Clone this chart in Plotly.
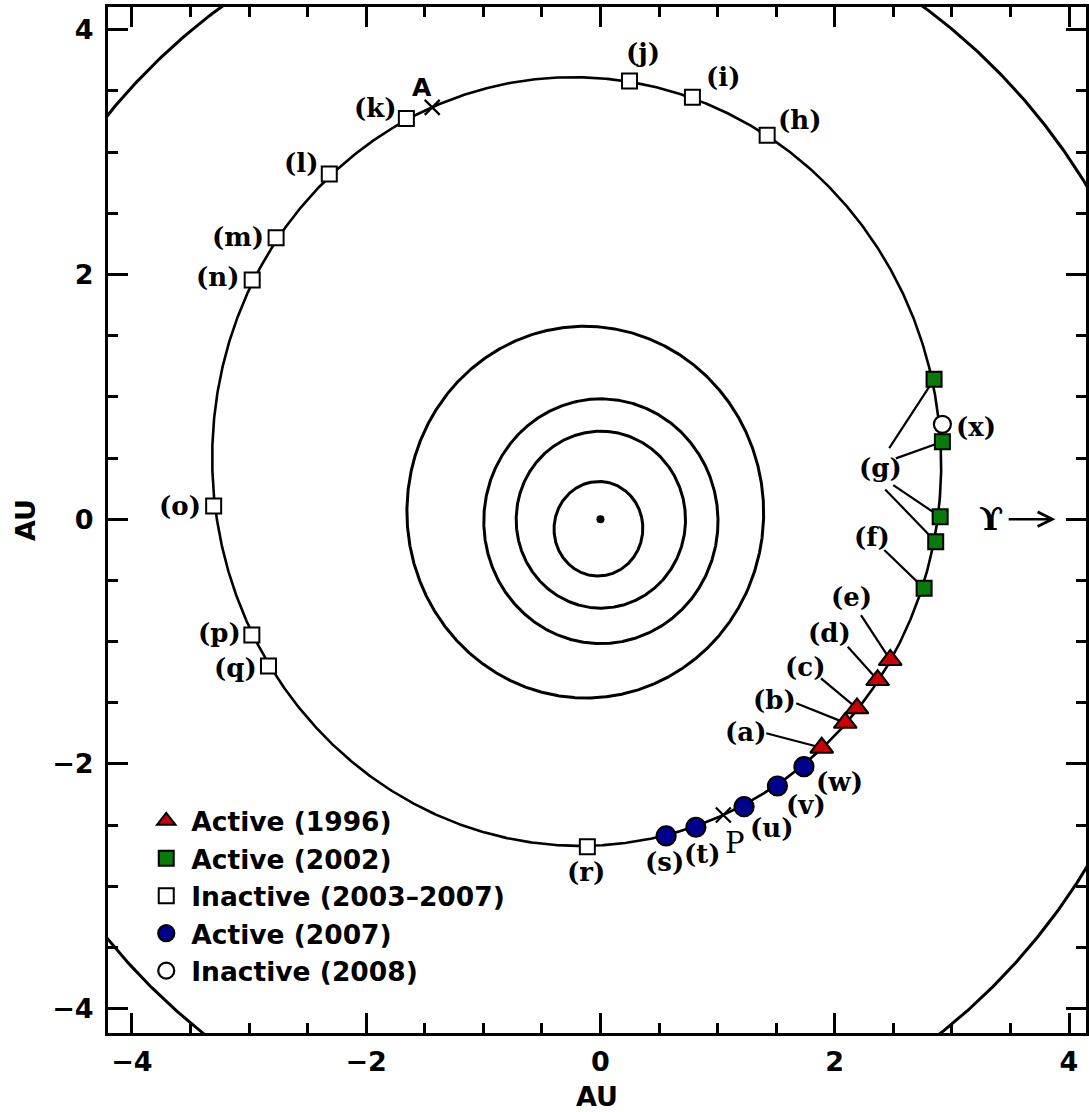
import numpy as np
import plotly.graph_objects as go

# ---------------- data ----------------
# planetary orbits (semi-major axis AU, eccentricity, longitude of perihelion deg)
planet_names = ["Mercury", "Venus", "Earth", "Mars", "Jupiter"]
planet_a = [0.387, 0.723, 1.000, 1.524, 5.203]
planet_e = [0.206, 0.007, 0.017, 0.093, 0.048]
planet_peri = [77.5, 131.5, 102.9, 336.0, 14.3]

# comet orbit
comet_a = 3.147
comet_e = 0.163
comet_peri = 293.3

# Active (1996)
act96_x = [1.889, 2.090, 2.190, 2.366, 2.474]
act96_y = [-1.867, -1.664, -1.545, -1.314, -1.150]
act96_lab = ["(a)", "(b)", "(c)", "(d)", "(e)"]
act96_lab_x = [1.240, 1.487, 1.747, 1.955, 2.145]
act96_lab_y = [-1.736, -1.477, -1.205, -0.932, -0.633]
act96_lead_x = [1.415, 1.671, 1.883, 2.111, 2.224]
act96_lead_y = [-1.749, -1.504, -1.300, -1.042, -0.783]

# Active (2002)
act02_x = [2.763, 2.848, 2.919, 2.900, 2.862]
act02_y = [-0.565, 1.143, 0.633, 0.020, -0.184]
act02_lead_x = [2.423, 2.465, 2.522, 2.500, 2.431]
act02_lead_y = [-0.252, 0.580, 0.497, 0.279, 0.243]
act02_lab = ["(f)", "(g)"]
act02_lab_x = [2.315, 2.394]
act02_lab_y = [-0.143, 0.416]

# Inactive (2003-2007)
inact_x = [1.423, 0.785, 0.248, -1.657, -2.315, -2.769, -2.973, -3.302, -2.976, -2.834, -0.112]
inact_y = [3.137, 3.447, 3.580, 3.275, 2.820, 2.300, 1.954, 0.108, -0.946, -1.199, -2.676]
inact_lab = ["(h)", "(i)", "(j)", "(k)", "(l)", "(m)", "(n)", "(o)", "(p)", "(q)", "(r)"]
inact_lab_x = [1.700, 1.047, 0.361, -1.917, -2.556, -3.095, -3.265, -3.591, -3.251, -3.115, -0.121]
inact_lab_y = [3.261, 3.610, 3.806, 3.357, 2.908, 2.308, 1.981, 0.108, -0.932, -1.218, -2.880]

# Active (2007)
act07_x = [0.561, 0.815, 1.226, 1.511, 1.737]
act07_y = [-2.588, -2.517, -2.349, -2.180, -2.022]
act07_lab = ["(s)", "(t)", "(u)", "(v)", "(w)"]
act07_lab_x = [0.546, 0.868, 1.465, 1.757, 2.038]
act07_lab_y = [-2.798, -2.735, -2.525, -2.335, -2.144]

# Inactive (2008)
inact08_x = [2.919]
inact08_y = [0.775]
inact08_lab = ["(x)"]
inact08_lab_x = [3.210]
inact08_lab_y = [0.756]

# aphelion / perihelion
apsis_x = [-1.436, 1.049]
apsis_y = [3.365, -2.417]
apsis_lab = ["A", "P"]
apsis_lab_x = [-1.521, 1.152]
apsis_lab_y = [3.529, -2.648]

# vernal equinox arrow
equinox_sym_x, equinox_sym_y = 3.330, 0.005
equinox_tail_x, equinox_head_x = 3.472, 3.884

# ---------------- figure ----------------
BOLD_SANS = "DejaVu Sans"
SERIF = "DejaVu Serif"


def orbit(a, e, peri_deg):
    nu = np.linspace(0, 2 * np.pi, 1441)
    r = a * (1 - e ** 2) / (1 + e * np.cos(nu))
    ang = nu + np.radians(peri_deg)
    return r * np.cos(ang), r * np.sin(ang)


fig = go.Figure()

for name, a, e, w in zip(planet_names, planet_a, planet_e, planet_peri):
    ox, oy = orbit(a, e, w)
    fig.add_trace(go.Scatter(x=ox, y=oy, mode="lines", line=dict(color="black", width=3),
                             showlegend=False, hoverinfo="skip", name=name))

cx, cy = orbit(comet_a, comet_e, comet_peri)
fig.add_trace(go.Scatter(x=cx, y=cy, mode="lines", line=dict(color="black", width=2.6),
                         showlegend=False, hoverinfo="skip"))

# Sun
fig.add_trace(go.Scatter(x=[0], y=[0], mode="markers", marker=dict(color="black", size=8),
                         showlegend=False, hoverinfo="skip"))

# leader lines
lx, ly = [], []
for sx, sy, ex, ey in zip(act96_lead_x, act96_lead_y, act96_x, act96_y):
    lx += [sx, ex, None]
    ly += [sy, ey, None]
for sx, sy, ex, ey in zip(act02_lead_x, act02_lead_y, act02_x, act02_y):
    lx += [sx, ex, None]
    ly += [sy, ey, None]
fig.add_trace(go.Scatter(x=lx, y=ly, mode="lines", line=dict(color="black", width=2.2),
                         showlegend=False, hoverinfo="skip"))

# apsis crosses
fig.add_trace(go.Scatter(x=apsis_x, y=apsis_y, mode="markers",
                         marker=dict(symbol="x-thin", size=15, line=dict(color="black", width=2.2)),
                         showlegend=False, hoverinfo="skip"))

# marker series
fig.add_trace(go.Scatter(x=act96_x, y=act96_y, mode="markers", name="Active (1996)",
                         marker=dict(symbol="triangle-up", size=20, color="#cc0000",
                                     line=dict(color="black", width=2))))
fig.add_trace(go.Scatter(x=act02_x, y=act02_y, mode="markers", name="Active (2002)",
                         marker=dict(symbol="square", size=15, color="#0a7a0a",
                                     line=dict(color="black", width=2))))
fig.add_trace(go.Scatter(x=inact_x, y=inact_y, mode="markers", name="Inactive (2003\u20132007)",
                         marker=dict(symbol="square", size=15, color="white",
                                     line=dict(color="black", width=2))))
fig.add_trace(go.Scatter(x=act07_x, y=act07_y, mode="markers", name="Active (2007)",
                         marker=dict(symbol="circle", size=19, color="#00008f",
                                     line=dict(color="black", width=2.2))))
fig.add_trace(go.Scatter(x=inact08_x, y=inact08_y, mode="markers", name="Inactive (2008)",
                         marker=dict(symbol="circle", size=17, color="white",
                                     line=dict(color="black", width=2.2))))

# labels
lab_font = dict(family=SERIF, size=26, color="black", weight="bold")
for labs, xs, ys in [(act96_lab, act96_lab_x, act96_lab_y),
                     (act02_lab, act02_lab_x, act02_lab_y),
                     (inact_lab, inact_lab_x, inact_lab_y),
                     (act07_lab, act07_lab_x, act07_lab_y),
                     (inact08_lab, inact08_lab_x, inact08_lab_y)]:
    for t, x, y in zip(labs, xs, ys):
        fig.add_annotation(x=x, y=y, text=t, showarrow=False, font=lab_font,
                           xanchor="center", yanchor="middle")

fig.add_annotation(x=apsis_lab_x[0], y=apsis_lab_y[0], text=apsis_lab[0], showarrow=False,
                   font=dict(family=BOLD_SANS, size=25, color="black", weight="bold"))
fig.add_annotation(x=apsis_lab_x[1], y=apsis_lab_y[1], text=apsis_lab[1], showarrow=False,
                   font=dict(family=SERIF, size=29, color="black"))

# equinox symbol and arrow
fig.add_annotation(x=equinox_sym_x, y=equinox_sym_y, text="\u03d2", showarrow=False,
                   font=dict(family=SERIF, size=32, color="black", weight="bold"))
fig.add_annotation(x=equinox_head_x, y=0, ax=equinox_tail_x, ay=0, axref="x", ayref="y",
                   xref="x", yref="y", text="", showarrow=True, arrowhead=5, arrowsize=1.2,
                   arrowwidth=2.4, arrowcolor="black")

tick_font = dict(family=BOLD_SANS, size=27, color="black", weight="bold")
axis_common = dict(
    showline=True, linewidth=3, linecolor="black", mirror="ticks",
    ticks="inside", ticklen=20, tickwidth=2.5, tickcolor="black",
    showgrid=False, zeroline=False, tickfont=tick_font,
    dtick=2, tick0=0,
    minor=dict(ticks="inside", ticklen=10, tickwidth=2.5, tickcolor="black", dtick=0.5, showgrid=False),
)

fig.update_layout(
    width=1089, height=1112,
    margin=dict(l=108, r=0, t=7, b=79),
    plot_bgcolor="white", paper_bgcolor="white",
    xaxis=dict(range=[-4.204, 4.145], title=dict(text="AU", font=tick_font, standoff=13),
               ticklabelstandoff=3, **axis_common),
    yaxis=dict(range=[-4.198, 4.185], title=dict(text="AU", font=tick_font, standoff=9),
               ticklabelstandoff=6, **axis_common),
    showlegend=True,
    legend=dict(x=0.034, y=0.2299, xanchor="left", yanchor="top",
                bgcolor="rgba(0,0,0,0)", borderwidth=0, itemwidth=40,
                font=dict(family=BOLD_SANS, size=26.5, color="black", weight="bold"),
                tracegroupgap=0, itemclick=False),
)

fig.write_html("out.html")
